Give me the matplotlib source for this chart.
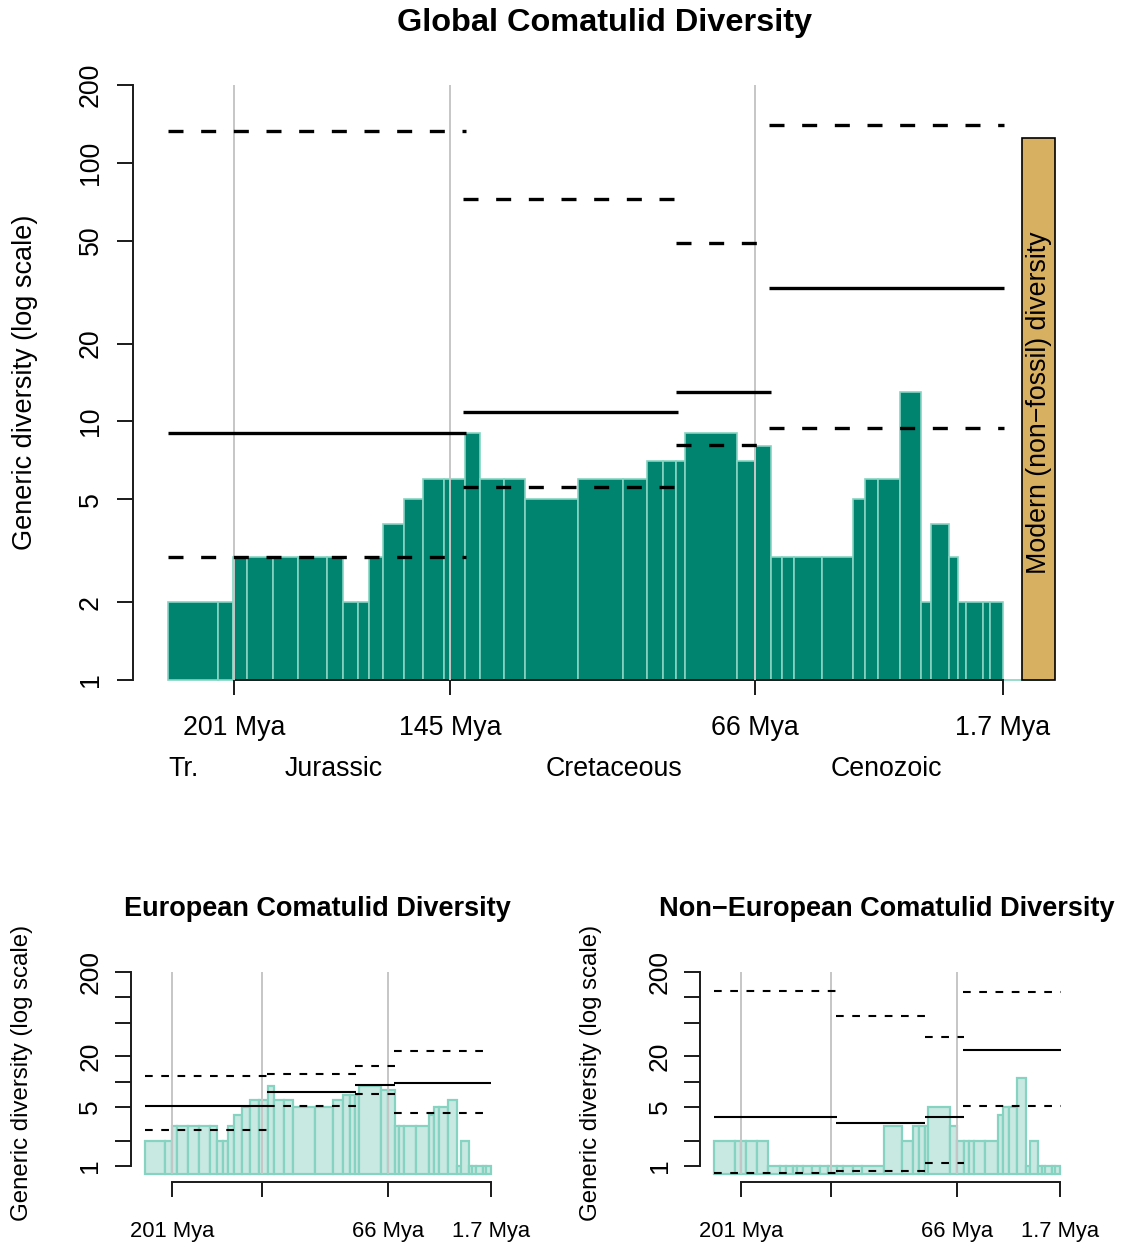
import numpy as np
import matplotlib.pyplot as plt
from matplotlib.ticker import NullLocator

plt.rcParams['font.family'] = ['Liberation Sans', 'DejaVu Sans']

# stage-level time bins (Mya), oldest first
bin_edges = [218.0, 205.1, 201.2, 197.7, 190.8, 184.3, 177.0, 172.7, 168.8, 166.0,
             162.3, 156.9, 151.9, 146.7, 141.1, 137.2, 130.9, 125.6, 111.8, 100.3,
             94.0, 89.7, 86.4, 84.1, 70.7, 66.0, 61.9, 58.9, 55.9, 48.7,
             40.6, 37.4, 34.0, 28.5, 22.9, 20.4, 15.7, 13.4, 11.3, 6.8, 5.0, 1.7]

# genus counts per bin
global_genera = [2, 2, 3, 3, 3, 3, 3, 2, 2, 3, 4, 5, 6, 6, 9, 6, 6, 5, 6, 6,
                 7, 7, 7, 9, 7, 8, 3, 3, 3, 3, 5, 6, 6, 13, 2, 4, 3, 2, 2, 2, 2]
european_genera = [2, 2, 3, 3, 3, 3, 3, 2, 2, 3, 4, 5, 6, 6, 9, 6, 6, 5, 5, 6,
                   7, 7, 7, 9, 8, 8, 3, 3, 3, 3, 4, 5, 5, 6, 1, 2, 1, 1, 1, 1, 1]
non_european_genera = [2, 2, 2, 2, 2, 1, 1, 1, 1, 1, 1, 1, 1, 1, 1, 1, 1, 1, 3, 2,
                       3, 3, 3, 5, 3, 2, 2, 2, 2, 2, 4, 5, 5, 11, 1, 2, 1, 1, 1, 1, 1]

# youngest fossil bin and the living fauna
recent_bin = [1.7, -10.5]
recent_genera = 1
modern_bin = [-3.3, -11.8]
modern_genera = 125

# interval estimates: start, end, estimate, lower and upper bound
interval_start = [218.0, 141.6, 86.4, 62.3]
interval_end = [140.9, 85.9, 61.8, 1.5]
global_est = [9.0, 10.9, 13.0, 32.8]
global_lower = [3.0, 5.6, 8.1, 9.4]
global_upper = [133.0, 72.6, 49.0, 140.0]
european_est = [5.2, 7.6, 9.1, 9.7]
european_lower = [2.7, 5.2, 7.15, 4.3]
european_upper = [11.7, 12.5, 15.5, 23.3]
non_european_est = [3.8, 3.2, 3.8, 23.5]
non_european_lower = [0.83, 0.87, 1.1, 5.2]
non_european_upper = [120.0, 60.0, 33.6, 117.0]

boundary_ages = [201, 145, 66, 1.7]
boundary_labels = ['201 Mya', '145 Mya', '66 Mya', '1.7 Mya']
era_names = ['Tr.', 'Jurassic', 'Cretaceous', 'Cenozoic']
era_label_ages = [214.2, 175.1, 102.5, 32.0]
y_ticks = [1, 2, 5, 10, 20, 50, 100, 200]

W, H = 1123, 1245
fig = plt.figure(figsize=(W / 100, H / 100), dpi=100)
AXIS_COL = '#1a1a1a'


def add_axes_px(x0, y0, x1, y1):
    return fig.add_axes([x0 / W, 1 - y1 / H, (x1 - x0) / W, (y1 - y0) / H])


def fig_text(x, y, s, **kw):
    fig.text(x / W, 1 - y / H, s, ha='center', va='center', **kw)


def draw_diversity(ax, counts, est, lower, upper, base, fill, edge, bar_lw,
                   line_lw, dash):
    edges = np.array(bin_edges)
    old, young = edges[:-1], edges[1:]
    ax.bar(young, np.array(counts) - base, width=old - young, bottom=base,
           align='edge', color=fill, edgecolor=edge, linewidth=bar_lw,
           zorder=2, clip_on=False)
    ax.vlines(boundary_ages[:3], base, 200, colors='#c6c6c6', lw=1.4, zorder=3)
    for s, e, m, lo, hi in zip(interval_start, interval_end, est, lower, upper):
        ax.plot([s, e], [m, m], color='black', lw=line_lw,
                solid_capstyle='butt', zorder=4)
        for v in (lo, hi):
            ax.plot([s, e], [v, v], color='black', lw=line_lw,
                    linestyle=(0, dash), dash_capstyle='butt', zorder=4)


def style_axes(ax, xlabels, ylabels, xsize, ysize, xpad, ypad):
    ax.set_yscale('log')
    for side in ('top', 'right'):
        ax.spines[side].set_visible(False)
    for side in ('left', 'bottom'):
        ax.spines[side].set_linewidth(1.4)
        ax.spines[side].set_color(AXIS_COL)
    ax.spines['left'].set_bounds(1, 200)
    ax.spines['bottom'].set_bounds(1.7, 201)
    ax.set_xticks(boundary_ages, xlabels)
    ax.set_yticks(y_ticks, ylabels, rotation=90, va='center')
    ax.xaxis.set_minor_locator(NullLocator())
    ax.yaxis.set_minor_locator(NullLocator())
    ax.tick_params(axis='x', length=10.5, width=1.4, color=AXIS_COL,
                   labelsize=xsize, pad=xpad)
    ax.tick_params(axis='y', length=11.5, width=1.4, color=AXIS_COL,
                   labelsize=ysize, pad=ypad)
    ax.patch.set_visible(False)


# global panel
ax = add_axes_px(133, 85, 1092, 680)
draw_diversity(ax, global_genera, global_est, global_lower, global_upper,
               1, '#00846f', '#86d4c2', 1.2, 2.4, (4.5, 5.3))
ax.bar(recent_bin[1], recent_genera - 1, width=recent_bin[0] - recent_bin[1],
       bottom=1, align='edge', color='#00846f', edgecolor='#86d4c2',
       linewidth=1.2, zorder=2, clip_on=False)
ax.bar(modern_bin[1], modern_genera - 1, width=modern_bin[0] - modern_bin[1],
       bottom=1, align='edge', color='#d8b062', edgecolor='black',
       linewidth=1.2, zorder=5, clip_on=False)
ax.text(np.mean(modern_bin), 11.8, 'Modern (non\u2212fossil) diversity',
        rotation=90, ha='center', va='center', fontsize=19.3, zorder=6)
ax.set_xlim(227.2, -21.4)
style_axes(ax, boundary_labels, [str(t) for t in y_ticks], 19.3, 19.3, 15, 9.7)
ax.set_ylim(1, 200)

fig_text(605, 23, 'Global Comatulid Diversity', fontsize=23.4, fontweight='bold')
fig_text(25, 382, 'Generic diversity (log scale)', fontsize=19.5, rotation=90)
for name, age in zip(era_names, era_label_ages):
    fig_text(234 + (201 - age) * 3.858, 769, name, fontsize=19.3)

# regional panels
small_xlabels = ['201 Mya', '', '66 Mya', '1.7 Mya']
small_ylabels = ['1', '', '5', '', '20', '', '', '200']
panels = [
    (130.7, 'European Comatulid Diversity', european_genera,
     european_est, european_lower, european_upper),
    (700.0, 'Non\u2212European Comatulid Diversity', non_european_genera,
     non_european_est, non_european_lower, non_european_upper),
]
for x0, title, counts, est, lo, hi in panels:
    sub = add_axes_px(x0, 964, x0 + 376.8, 1182)
    draw_diversity(sub, counts, est, lo, hi, 0.8, '#c8e9e2', '#86d3c2', 1.6,
                   1.5, (3.7, 4.1))
    sub.set_xlim(226.7, -8.6)
    style_axes(sub, small_xlabels, small_ylabels, 15.8, 19.0, 17.5, 9)
    sub.set_ylim(0.646, 249)
    fig_text(x0 + 186.5, 909, title, fontsize=19.5, fontweight='bold')
    fig_text(x0 - 108.5, 1073, 'Generic diversity (log scale)', fontsize=17.3,
             rotation=90)

fig.savefig('out.png', dpi=100)
